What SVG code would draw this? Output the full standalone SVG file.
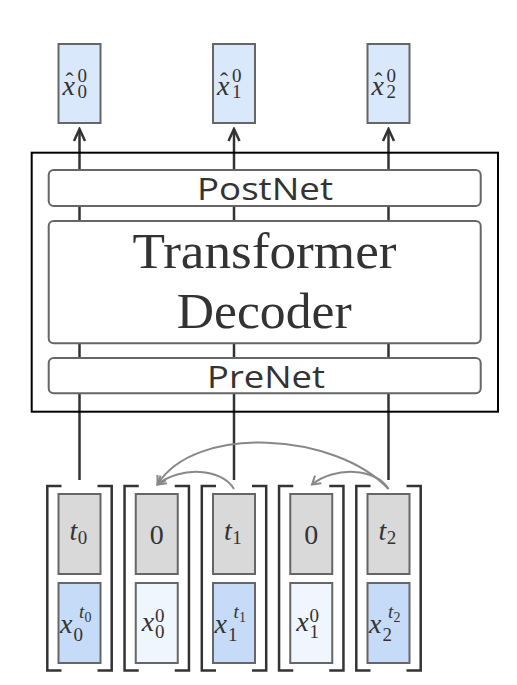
<svg xmlns="http://www.w3.org/2000/svg" width="517" height="685" viewBox="0 0 517 685">
<style>
  .box{stroke:#666;stroke-width:2}
  .top{fill:#dae8fc}
  .gray{fill:#d9d9d9}
  .blue{fill:#c5dbf7}
  .pale{fill:#f0f6fe}
  .mod{fill:#fff;stroke:#666;stroke-width:2}
  .br{fill:none;stroke:#333;stroke-width:2.5}
  .m{font-family:"Liberation Serif","DejaVu Serif",serif;fill:#333}
  .i{font-style:italic}
  .s{font-size:19px}
  .ss{font-size:14px}
  .b{font-size:28px}
  .hat{font-size:24px}
  .sans{font-family:"Open Sans","DejaVu Sans",sans-serif;font-size:31px;fill:#333}
  .big{font-family:"Liberation Serif","DejaVu Serif",serif;font-size:50px;fill:#333}
  .conn{fill:none;stroke:#333;stroke-width:2.5}
  .curve{fill:none;stroke:#888;stroke-width:2}
</style>
<defs>
  <marker id="karrow" viewBox="-14 -8 16 16" markerWidth="16" markerHeight="16" refX="0" refY="0" orient="auto" markerUnits="userSpaceOnUse">
    <path d="M-12,-5.5 L0,0 L-12,5.5" fill="none" stroke="#333" stroke-width="2.5"/>
  </marker>
  <marker id="garrow" viewBox="-10 -7 12 14" markerWidth="12" markerHeight="14" refX="0" refY="0" orient="auto" markerUnits="userSpaceOnUse">
    <path d="M-8,-5 L0,0 L-8,5" fill="none" stroke="#888" stroke-width="2"/>
  </marker>
</defs>
<rect width="517" height="685" fill="#fff"/>

<g id="connectors">
  <line class="conn" x1="79.5" y1="480" x2="79.5" y2="129" marker-end="url(#karrow)"/>
  <line class="conn" x1="234" y1="480" x2="234" y2="129" marker-end="url(#karrow)"/>
  <line class="conn" x1="388.5" y1="480" x2="388.5" y2="129" marker-end="url(#karrow)"/>
  <path class="curve" d="M388.5,489 C335,432 195,424 157.5,484.5" marker-end="url(#garrow)"/>
  <path class="curve" d="M234,489 C222,468 180,466 157.5,484.5" marker-end="url(#garrow)"/>
  <path class="curve" d="M388.5,489 C376.5,468 334.5,466 312,484.5" marker-end="url(#garrow)"/>
</g>

<g id="decoder">
  <rect x="31.7" y="152.7" width="466.3" height="259" fill="none" stroke="#000" stroke-width="2"/>
  <g id="postnet">
    <rect class="mod" x="48.7" y="170" width="432" height="36" rx="5"/>
    <text class="sans" x="265" y="200" text-anchor="middle" textLength="136" lengthAdjust="spacingAndGlyphs">PostNet</text>
  </g>
  <g id="transformer">
    <rect class="mod" x="48.7" y="221" width="432" height="122.3" rx="5"/>
    <text class="big" x="264.5" y="268.3" text-anchor="middle" textLength="264" lengthAdjust="spacingAndGlyphs">Transformer</text>
    <text class="big" x="264.2" y="328.3" text-anchor="middle" textLength="175" lengthAdjust="spacingAndGlyphs">Decoder</text>
  </g>
  <g id="prenet">
    <rect class="mod" x="48.7" y="358" width="432" height="35.3" rx="5"/>
    <text class="sans" x="266" y="387.7" text-anchor="middle" textLength="118" lengthAdjust="spacingAndGlyphs">PreNet</text>
  </g>
</g>

<g id="out0">
  <rect class="box top" x="58.5" y="44" width="42" height="79"/>
  <text class="m"><tspan class="i b" x="62.5" y="95">x</tspan><tspan class="hat" x="65.5" y="89">ˆ</tspan><tspan class="s" x="77.5" y="82">0</tspan><tspan class="s" x="77.5" y="98">0</tspan></text>
</g>
<g id="out1">
  <rect class="box top" x="213" y="44" width="42" height="79"/>
  <text class="m"><tspan class="i b" x="217" y="95">x</tspan><tspan class="hat" x="220" y="89">ˆ</tspan><tspan class="s" x="232" y="82">0</tspan><tspan class="s" x="232" y="98">1</tspan></text>
</g>
<g id="out2">
  <rect class="box top" x="367.5" y="44" width="42" height="79"/>
  <text class="m"><tspan class="i b" x="371.5" y="95">x</tspan><tspan class="hat" x="374.5" y="89">ˆ</tspan><tspan class="s" x="386.5" y="82">0</tspan><tspan class="s" x="386.5" y="98">2</tspan></text>
</g>

<g id="in0">
  <path class="br" d="M61.5,486 H47.3 V670.5 H61.5 M97.5,486 H111.7 V670.5 H97.5"/>
  <rect class="box gray" x="58.5" y="494" width="42" height="80"/>
  <text class="m"><tspan class="i b" x="69.5" y="540">t</tspan><tspan class="s" x="77.7" y="544">0</tspan></text>
  <rect class="box blue" x="58.5" y="583" width="42" height="80"/>
  <text class="m"><tspan class="i b" x="60" y="633">x</tspan><tspan class="s" x="73.5" y="640.5">0</tspan><tspan class="i s" x="79" y="618">t</tspan><tspan class="ss" x="84.5" y="622">0</tspan></text>
</g>
<g id="in1">
  <path class="br" d="M138.75,486 H124.55 V670.5 H138.75 M174.75,486 H188.95 V670.5 H174.75"/>
  <rect class="box gray" x="135.75" y="494" width="42" height="80"/>
  <text class="m b" x="156.75" y="544" text-anchor="middle">0</text>
  <rect class="box pale" x="135.75" y="583" width="42" height="80"/>
  <text class="m"><tspan class="i b" x="141.7" y="631">x</tspan><tspan class="s" x="155" y="622">0</tspan><tspan class="s" x="155" y="638">0</tspan></text>
</g>
<g id="in2">
  <path class="br" d="M216,486 H201.8 V670.5 H216 M252,486 H266.2 V670.5 H252"/>
  <rect class="box gray" x="213" y="494" width="42" height="80"/>
  <text class="m"><tspan class="i b" x="224" y="540">t</tspan><tspan class="s" x="232.2" y="544">1</tspan></text>
  <rect class="box blue" x="213" y="583" width="42" height="80"/>
  <text class="m"><tspan class="i b" x="214.5" y="633">x</tspan><tspan class="s" x="228" y="640.5">1</tspan><tspan class="i s" x="233.5" y="618">t</tspan><tspan class="ss" x="239" y="622">1</tspan></text>
</g>
<g id="in3">
  <path class="br" d="M293.25,486 H279.05 V670.5 H293.25 M329.25,486 H343.45 V670.5 H329.25"/>
  <rect class="box gray" x="290.25" y="494" width="42" height="80"/>
  <text class="m b" x="311.25" y="544" text-anchor="middle">0</text>
  <rect class="box pale" x="290.25" y="583" width="42" height="80"/>
  <text class="m"><tspan class="i b" x="296.2" y="631">x</tspan><tspan class="s" x="309.5" y="622">0</tspan><tspan class="s" x="309.5" y="638">1</tspan></text>
</g>
<g id="in4">
  <path class="br" d="M370.5,486 H356.3 V670.5 H370.5 M406.5,486 H420.7 V670.5 H406.5"/>
  <rect class="box gray" x="367.5" y="494" width="42" height="80"/>
  <text class="m"><tspan class="i b" x="378.5" y="540">t</tspan><tspan class="s" x="386.7" y="544">2</tspan></text>
  <rect class="box blue" x="367.5" y="583" width="42" height="80"/>
  <text class="m"><tspan class="i b" x="369" y="633">x</tspan><tspan class="s" x="382.5" y="640.5">2</tspan><tspan class="i s" x="388" y="618">t</tspan><tspan class="ss" x="393.5" y="622">2</tspan></text>
</g>
</svg>
